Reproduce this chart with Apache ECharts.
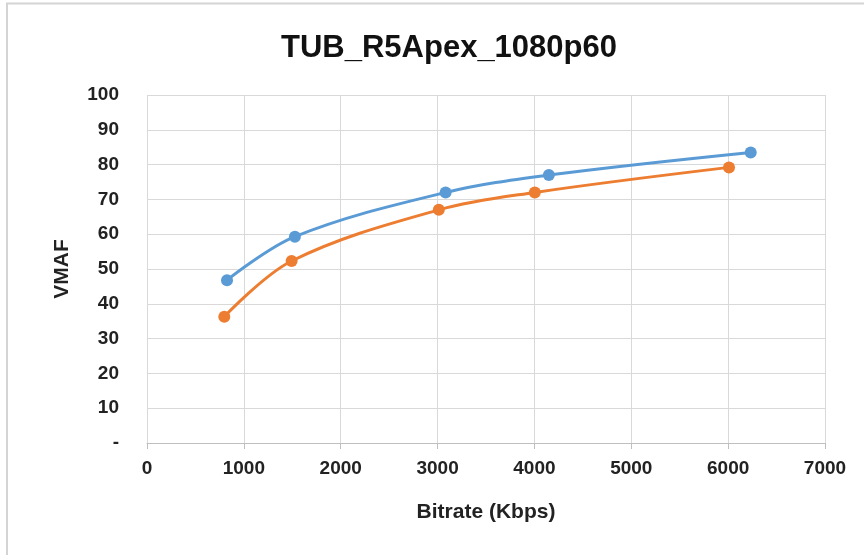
<!DOCTYPE html>
<html>
<head>
<meta charset="utf-8">
<script src="https://cdn.jsdelivr.net/npm/echarts@6/dist/echarts.min.js"></script>
<style>html,body{margin:0;padding:0;background:#fff;}#c{width:864px;height:555px;}</style>
</head>
<body>
<div id="c"></div>
<script>
const chartTitle = "TUB_R5Apex_1080p60";
const xAxisName = "Bitrate (Kbps)";
const yAxisName = "VMAF";
const seriesABitrate = [826, 1527, 3083, 4149, 6233];
const seriesAVmaf = [46.8, 59.3, 72.0, 77.0, 83.5];
const seriesBBitrate = [798, 1493, 3013, 4004, 6009];
const seriesBVmaf = [36.3, 52.3, 67.0, 72.0, 79.2];

const font = "'Liberation Sans', Arial, sans-serif";
const chart = echarts.init(document.getElementById('c'), null, {renderer: 'canvas'});
chart.setOption({
  animation: false,
  backgroundColor: '#fff',
  title: {
    text: chartTitle, left: 444, top: 28, textAlign: 'center',
    textStyle: {fontFamily: font, fontWeight: 'bold', fontSize: 31, color: '#111'}
  },
  graphic: [{
    type: 'polyline', silent: true,
    shape: {points: [[7, 560], [7, 3.5], [870, 3.5]]},
    style: {stroke: '#d4d4d4', lineWidth: 2, fill: null}
  }],
  grid: {left: 147, right: 39, top: 95, bottom: 112, containLabel: false},
  xAxis: {
    type: 'value', min: 0, max: 7000, interval: 1000,
    name: xAxisName, nameLocation: 'middle', nameGap: 59,
    nameTextStyle: {fontFamily: font, fontWeight: 'bold', fontSize: 21, color: '#222'},
    axisLine: {show: true, lineStyle: {color: '#bfbfbf', width: 1}},
    axisTick: {show: true, inside: false, length: 6, lineStyle: {color: '#bfbfbf'}},
    axisLabel: {fontFamily: font, fontWeight: 'bold', fontSize: 19, color: '#222', margin: 16,
      formatter: v => String(v)},
    splitLine: {show: true, lineStyle: {color: '#d9d9d9', width: 1}}
  },
  yAxis: {
    type: 'value', min: 0, max: 100, interval: 10,
    name: yAxisName, nameLocation: 'middle', nameGap: 74, nameRotate: 90,
    nameTextStyle: {fontFamily: font, fontWeight: 'bold', fontSize: 21, color: '#222'},
    axisLine: {show: false},
    axisTick: {show: false},
    axisLabel: {fontFamily: font, fontWeight: 'bold', fontSize: 19, color: '#222', margin: 28,
      formatter: v => v === 0 ? '-' : String(v)},
    splitLine: {show: true, lineStyle: {color: '#d9d9d9', width: 1}}
  },
  series: [{
    type: 'line', smooth: 0.35,
    data: seriesABitrate.map((x, i) => [x, seriesAVmaf[i]]),
    symbol: 'circle', symbolSize: 12,
    lineStyle: {color: '#5B9BD5', width: 3},
    itemStyle: {color: '#5B9BD5'}
  }, {
    type: 'line', smooth: 0.35,
    data: seriesBBitrate.map((x, i) => [x, seriesBVmaf[i]]),
    symbol: 'circle', symbolSize: 12,
    lineStyle: {color: '#ED7D31', width: 3},
    itemStyle: {color: '#ED7D31'}
  }]
});
</script>
</body>
</html>
